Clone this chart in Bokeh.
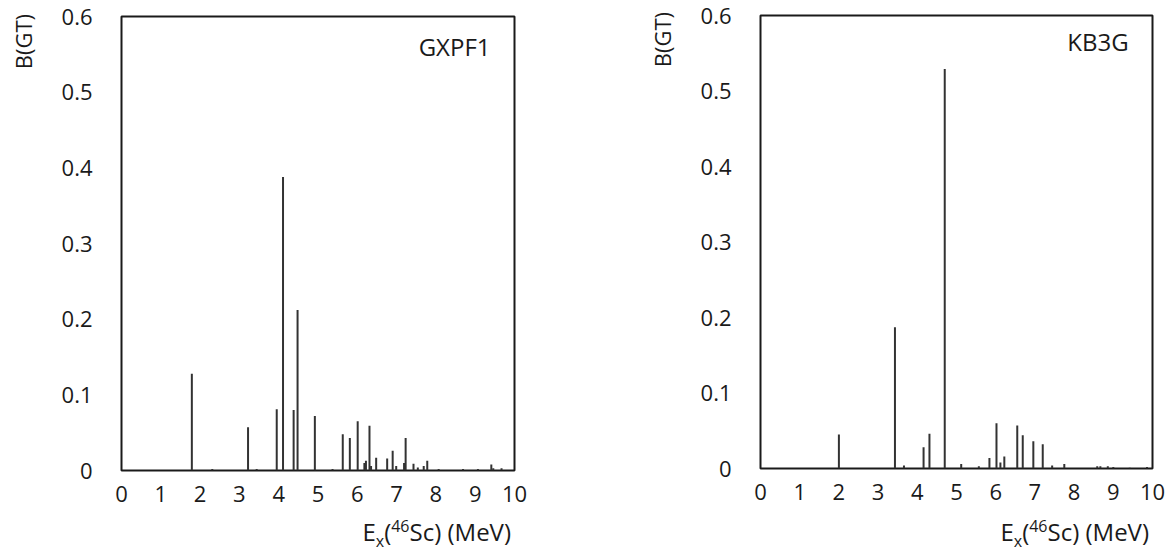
from bokeh.plotting import figure
from bokeh.models import Label, FixedTicker, Range1d, Div
from bokeh.layouts import row, column
from bokeh.embed import file_html
from bokeh.resources import INLINE

FONT = "Open Sans"
TXT = "#1a1a1a"

# ---- data ----
gx_energy = [1.79, 2.31, 3.22, 3.44, 3.95, 4.11, 4.38, 4.48, 4.92, 5.37, 5.63, 5.81,
             6.01, 6.18, 6.22, 6.31, 6.35, 6.48, 6.76, 6.90, 6.99, 7.19, 7.23, 7.43,
             7.54, 7.69, 7.78, 8.07, 8.69, 9.07, 9.41, 9.46, 9.67]
gx_bgt = [0.128, 0.002, 0.057, 0.002, 0.081, 0.388, 0.080, 0.212, 0.072, 0.002, 0.048, 0.043,
          0.065, 0.010, 0.013, 0.059, 0.006, 0.017, 0.016, 0.026, 0.006, 0.010, 0.043, 0.009,
          0.004, 0.006, 0.013, 0.002, 0.002, 0.002, 0.008, 0.003, 0.003]

kb_energy = [2.00, 3.43, 3.66, 4.16, 4.31, 4.70, 5.12, 5.57, 5.84, 6.02, 6.12, 6.22,
             6.55, 6.69, 6.96, 7.20, 7.44, 7.75, 8.59, 8.67, 8.86, 9.00, 9.42, 9.86]
kb_bgt = [0.045, 0.187, 0.004, 0.028, 0.046, 0.529, 0.006, 0.003, 0.014, 0.060, 0.008, 0.016,
          0.057, 0.044, 0.036, 0.032, 0.004, 0.006, 0.003, 0.003, 0.003, 0.002, 0.001, 0.002]

model_names = ["GXPF1", "KB3G"]
x_ticks = [0, 1, 2, 3, 4, 5, 6, 7, 8, 9, 10]
y_ticks = [0, 0.1, 0.2, 0.3, 0.4, 0.5, 0.6]
y_tick_labels = ["0", "0.1", "0.2", "0.3", "0.4", "0.5", "0.6"]
y_label = "B(GT)"
x_label_html = ('E<span style="font-size:16px;position:relative;top:6px">x</span>('
                '<span style="font-size:16px;position:relative;top:-9px">46</span>Sc) (MeV)')

FIG_H = 510


def make_panel(energy, bgt, name, name_y, width, bl, br, bt, frame_bottom, label_right,
               ylab_top, ylab_w, ylab_left):
    fig_w = width - ylab_w
    p = figure(width=fig_w, height=FIG_H, x_range=Range1d(0, 10), y_range=Range1d(0, 0.6),
               output_backend="svg", toolbar_location=None,
               min_border_left=bl - ylab_w, min_border_right=br, min_border_top=bt,
               min_border_bottom=FIG_H - frame_bottom, margin=0)
    p.segment(x0=energy, y0=0, x1=energy, y1=bgt, line_width=2, line_color="#333333")
    p.xgrid.visible = False
    p.ygrid.visible = False
    p.outline_line_color = "#1a1a1a"
    p.outline_line_width = 2
    p.outline_line_alpha = 1.0

    for ax in (p.xaxis[0], p.yaxis[0]):
        ax.axis_line_color = None
        ax.major_tick_line_color = None
        ax.minor_tick_line_color = None
        ax.major_tick_out = 0
        ax.major_tick_in = 0
        ax.major_label_text_font = FONT
        ax.major_label_text_font_size = "22px"
        ax.major_label_text_color = TXT
    p.xaxis.ticker = FixedTicker(ticks=x_ticks)
    p.yaxis.ticker = FixedTicker(ticks=y_ticks)
    p.yaxis.major_label_overrides = {t: l for t, l in zip(y_ticks, y_tick_labels)}
    p.xaxis.major_label_standoff = 15
    p.yaxis.major_label_standoff = 29

    p.add_layout(Label(x=9.39, y=name_y, text=name, text_align="right",
                       text_baseline="alphabetic", text_font=FONT,
                       text_font_size="24px", text_color=TXT))

    xlab = Div(text=('<div style="width:%dpx;font-family:\'Open Sans\';font-size:24px;color:%s;'
                     'line-height:1;text-align:right;padding-top:10px;'
                     'white-space:nowrap;">%s</div>') % (label_right - ylab_w, TXT, x_label_html),
               width=fig_w, height=552 - FIG_H, margin=0)
    ylab = Div(text=('<span style="display:inline-block;writing-mode:vertical-rl;'
                     'transform:rotate(180deg);margin-top:%dpx;margin-left:%dpx;'
                     'font-family:\'Open Sans\';font-size:22px;line-height:30px;color:%s;'
                     'white-space:nowrap;">%s</span>') % (ylab_top, ylab_left, TXT, y_label),
               width=ylab_w, height=120, margin=0)
    return row(ylab, column(p, xlab, spacing=0), spacing=0)


c1 = make_panel(gx_energy, gx_bgt, model_names[0], 0.560, 560, 121, 46, 16, 470, 511,
                14, 50, 8)
c2 = make_panel(kb_energy, kb_bgt, model_names[1], 0.565, 614, 200, 22, 15, 468, 589,
                12, 120, 87)

layout = row(c1, c2, spacing=0)
open("out.html", "w").write(file_html(layout, INLINE))
